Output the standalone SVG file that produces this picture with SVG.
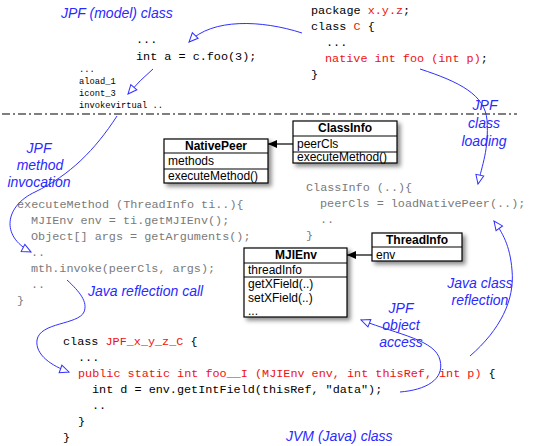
<svg xmlns="http://www.w3.org/2000/svg" width="537" height="446" viewBox="0 0 537 446">
<style>
.code{font-family:"Liberation Mono","DejaVu Sans Mono",monospace;font-size:11.8px;fill:#000}
.gray{fill:#7a7a7a}
.red{fill:#ee1111}
.small{font-family:"Liberation Mono","DejaVu Sans Mono",monospace;font-size:8.75px;fill:#000}
.lbl{font-family:"Liberation Sans",Arial,sans-serif;font-style:italic;font-size:14px;fill:#2a2aff}
.ctr{text-anchor:middle}
.box{fill:#fff;stroke:#000;stroke-width:1.2}
.sep{stroke:#000;stroke-width:1}
.uml{font-family:"Liberation Sans",Arial,sans-serif;font-size:12px;fill:#000}
.hdr{font-weight:bold;text-anchor:middle}
.conn{fill:none;stroke:#3030ff;stroke-width:1}
.umlc{fill:none;stroke:#000;stroke-width:1.2}
</style>
<defs>
<filter id="sh" x="-20%" y="-20%" width="150%" height="160%">
<feDropShadow dx="3" dy="3" stdDeviation="2" flood-color="#000" flood-opacity="0.45"/>
</filter>
<marker id="open" markerUnits="userSpaceOnUse" markerWidth="14" markerHeight="12" viewBox="-2 -2 14 12" refX="9" refY="4" orient="auto">
<path d="M0,0 L9,4 L0,8 z" fill="#fff" stroke="#3030ff" stroke-width="1"/>
</marker>
<marker id="fill" markerUnits="userSpaceOnUse" markerWidth="10" markerHeight="8" viewBox="0 0 10 8" refX="9" refY="4" orient="auto">
<path d="M0,0 L9,4 L0,8 z" fill="#000"/>
</marker>
</defs>

<!-- separator line -->
<line x1="2" y1="114" x2="517" y2="114" stroke="#000" stroke-width="1.2" stroke-dasharray="8,3,2,3"/>

<!-- code: model class -->
<g id="model-code">
<text class="code" x="136" y="43">...</text>
<text class="code" x="136" y="60">int a = c.foo(3);</text>
<text class="small" x="79" y="72">...</text>
<text class="small" x="79" y="84">aload_1</text>
<text class="small" x="79" y="96">icont_3</text>
<text class="small" x="79" y="108">invokevirtual ..</text>
</g>

<g id="package-code">
<text class="code" x="311" y="14">package <tspan class="red">x.y.z</tspan>;</text>
<text class="code" x="311" y="30">class <tspan class="red">C</tspan> {</text>
<text class="code" x="326" y="46">...</text>
<text class="code" x="325" y="62"><tspan class="red">native int foo (int p)</tspan>;</text>
<text class="code" x="311" y="78">}</text>
</g>

<g id="execute-code">
<text class="code gray" x="17" y="208">executeMethod (ThreadInfo ti..){</text>
<text class="code gray" x="31" y="224">MJIEnv env = ti.getMJIEnv();</text>
<text class="code gray" x="31" y="240">Object[] args = getArguments();</text>
<text class="code gray" x="31" y="256">..</text>
<text class="code gray" x="31" y="272">mth.invoke(peerCls, args);</text>
<text class="code gray" x="31" y="288">..</text>
<text class="code gray" x="17" y="304">}</text>
</g>

<g id="classinfo-code">
<text class="code gray" x="306" y="191">ClassInfo (..){</text>
<text class="code gray" x="320" y="207">peerCls = loadNativePeer(..);</text>
<text class="code gray" x="320" y="223">..</text>
<text class="code gray" x="306" y="239">}</text>
</g>

<g id="jvm-code">
<text class="code" x="63" y="345">class <tspan class="red">JPF_x_y_z_C</tspan> {</text>
<text class="code" x="78" y="361">...</text>
<text class="code" x="78" y="377"><tspan class="red">public static int foo__I (MJIEnv env, int thisRef, int p)</tspan> {</text>
<text class="code" x="92" y="393">int d = env.getIntField(thisRef, "data");</text>
<text class="code" x="92" y="409">..</text>
<text class="code" x="78" y="425">}</text>
<text class="code" x="63" y="441">}</text>
</g>

<!-- UML boxes -->
<g id="NativePeer">
<rect class="box" x="164" y="139" width="104" height="44" filter="url(#sh)"/>
<line class="sep" x1="164" y1="153" x2="268" y2="153"/>
<line class="sep" x1="164" y1="169" x2="268" y2="169"/>
<text class="uml hdr" x="216" y="150">NativePeer</text>
<text class="uml" x="168" y="165">methods</text>
<text class="uml" x="168" y="180">executeMethod()</text>
</g>

<g id="ClassInfo">
<rect class="box" x="293" y="121" width="104" height="42" filter="url(#sh)"/>
<line class="sep" x1="293" y1="136" x2="397" y2="136"/>
<line class="sep" x1="293" y1="152" x2="397" y2="152"/>
<text class="uml hdr" x="345" y="132">ClassInfo</text>
<text class="uml" x="297" y="148">peerCls</text>
<text class="uml" x="297" y="161">executeMethod()</text>
</g>

<g id="ThreadInfo">
<rect class="box" x="372" y="233" width="90" height="28" filter="url(#sh)"/>
<line class="sep" x1="372" y1="247" x2="462" y2="247"/>
<text class="uml hdr" x="417" y="244">ThreadInfo</text>
<text class="uml" x="376" y="259">env</text>
</g>

<g id="MJIEnv">
<rect class="box" x="244" y="248" width="103" height="69" filter="url(#sh)"/>
<line class="sep" x1="244" y1="263" x2="347" y2="263"/>
<line class="sep" x1="244" y1="277" x2="347" y2="277"/>
<text class="uml hdr" x="296" y="259">MJIEnv</text>
<text class="uml" x="248" y="274">threadInfo</text>
<text class="uml" x="248" y="288">getXField(..)</text>
<text class="uml" x="248" y="301.5">setXField(..)</text>
<text class="uml" x="248" y="315">...</text>
</g>

<!-- labels -->
<g id="labels">
<text class="lbl" x="61" y="18">JPF (model) class</text>
<text class="lbl ctr" x="485" y="110">JPF</text>
<text class="lbl ctr" x="484" y="128">class</text>
<text class="lbl ctr" x="484" y="146">loading</text>
<text class="lbl ctr" x="39" y="153">JPF</text>
<text class="lbl ctr" x="40" y="170">method</text>
<text class="lbl ctr" x="39" y="187">invocation</text>
<text class="lbl" x="88" y="296">Java reflection call</text>
<text class="lbl ctr" x="480" y="288">Java class</text>
<text class="lbl ctr" x="480" y="305">reflection</text>
<text class="lbl ctr" x="401" y="313">JPF</text>
<text class="lbl ctr" x="401" y="330">object</text>
<text class="lbl ctr" x="401" y="347">access</text>
<text class="lbl" x="286" y="441">JVM (Java) class</text>
</g>

<!-- connectors -->
<g id="connectors">
<path class="umlc" d="M293,144 L268,144" marker-end="url(#fill)"/>
<path class="umlc" d="M372,255 L347,255" marker-end="url(#fill)"/>
<path class="conn" d="M302,33 C262,20 212,18 189,42" marker-end="url(#open)"/>
<path class="conn" d="M153,69 Q140,80 128,94" marker-end="url(#open)"/>
<path class="conn" d="M117,116 C95,150 70,175 35,192 C5,206 0,236 31,252" marker-end="url(#open)"/>
<path class="conn" d="M67,280 C80,292 88,302 84,312 C78,325 40,322 37,340 C35,355 52,366 69,372" marker-end="url(#open)"/>
<path class="conn" d="M420,69 C460,82 485,95 487,120 C489,150 482,165 478,184" marker-end="url(#open)"/>
<path class="conn" d="M470,356 C500,330 515,300 512,270 C510,245 502,232 494,221" marker-end="url(#open)"/>
<path class="conn" d="M400,392 C425,390 445,380 440,360 C435,340 400,335 361,320" marker-end="url(#open)"/>
</g>
</svg>
